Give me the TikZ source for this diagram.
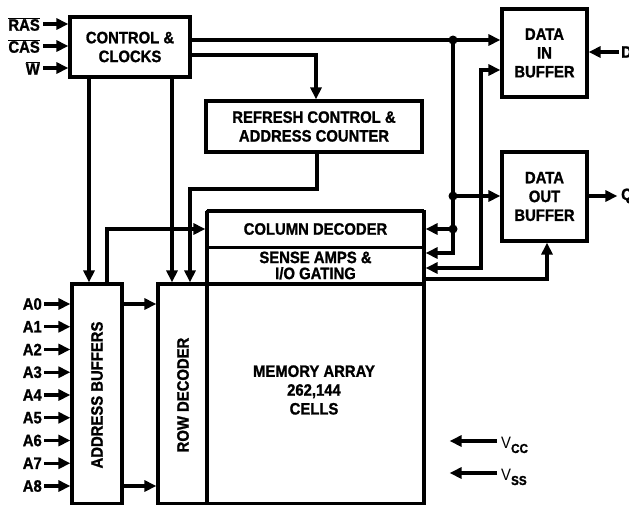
\documentclass[tikz,border=0pt]{standalone}
\usepackage{fontspec}
\setmainfont{Liberation Sans}[FakeStretch=0.9, BoldFeatures={FakeBold=1.2}]
\usetikzlibrary{arrows.meta}
\newcommand\lbl{\fontsize{16.5}{18.8}\selectfont\bfseries}
\newcommand\lbltight{\fontsize{16.5}{16}\selectfont\bfseries}
\begin{document}
\begin{tikzpicture}[x=1pt,y=-1pt,
  blk/.style={draw, line width=3.8pt, inner sep=0pt, outer sep=0pt, align=center, font=\lbl},
  inner/.style={draw, line width=3pt, inner sep=0pt, outer sep=0pt, align=center},
  txt/.style={inner sep=0pt, align=center, font=\lbl},
  wire/.style={line width=3.2pt},
  tip/.style={Triangle[length=12pt,width=11pt]},
  arr/.style={wire, -{Triangle[length=12pt,width=11pt]}, shorten >=1.6pt},
  arrboth/.style={wire, {Triangle[length=12pt,width=11pt]}-{Triangle[length=12pt,width=11pt]}, shorten >=1.6pt, shorten <=1.6pt},
  dot/.style={circle, fill, inner sep=0pt, minimum size=9pt}]
\useasboundingbox (0,0) rectangle (629,504);
% blocks
\node[blk, minimum width=120pt, minimum height=60pt] (ctrl) at (130,47) {CONTROL \&\\CLOCKS};
\node[blk, minimum width=216pt, minimum height=51pt] (refresh) at (314,126.5) {REFRESH CONTROL \&\\ADDRESS COUNTER};
\node[blk, minimum width=85pt, minimum height=88pt] (din) at (544.5,53) {DATA\\IN\\BUFFER};
\node[blk, minimum width=85pt, minimum height=89pt] (dout) at (544.5,196.5) {DATA\\OUT\\BUFFER};
\node[blk, minimum width=217pt, minimum height=220pt] (mem) at (315.5,394) {};
\node[txt] (memtxt) at (314,390) {MEMORY ARRAY\\262,144\\CELLS};
\node[inner, minimum width=217pt, minimum height=36pt, font=\lbl] (coldec) at (315.5,229) {COLUMN DECODER};
\node[inner, minimum width=217pt, minimum height=37pt, font=\lbltight] (sense) at (315.5,265.5) {SENSE AMPS \&\\I/O GATING};
\draw[line width=3.8pt] (coldec.north west) -- (sense.south west) (coldec.north east) -- (sense.south east)
  (coldec.north west) -- (coldec.north east) (sense.south west) -- (sense.south east);
\node[blk, minimum width=50pt, minimum height=220pt] (addr) at (97,394) {};
\node[txt, rotate=90] (addrtxt) at (97,395) {ADDRESS BUFFERS};
\node[blk, minimum width=49pt, minimum height=220pt] (row) at (182.5,394) {};
\node[txt, rotate=90] (rowtxt) at (183,395) {ROW DECODER};
% control inputs
\node[txt, anchor=east] (ras) at (40,24) {$\overline{\hbox{\lbl RAS}}$};
\node[txt, anchor=east] (cas) at (40,46) {$\overline{\hbox{\lbl CAS}}$};
\node[txt, anchor=east] (w) at (40,68) {$\overline{\hbox{\lbl W}}$};
\foreach \n in {ras,cas,w} \draw[arr] ([xshift=3pt]\n.east) -- (ctrl.west |- \n.east);
% junctions
\coordinate (j1) at (453,40);
\coordinate (j2) at (453,196);
\coordinate (j3) at (453,229);
\coordinate (j4) at (453,253);
\coordinate (k1) at (481,70);
\coordinate (k2) at (481,268);
\coordinate (r1) at (316,55);
\coordinate (r2) at (317,189);
\coordinate (r3) at (190,189);
\coordinate (c1) at (89,0);
\coordinate (c2) at (172,0);
\coordinate (a1) at (107,229);
\coordinate (s1) at (547,279);
% connectors
\draw[arr] (ctrl.east |- j1) -- (din.west |- j1);
\draw[arr] (ctrl.east |- r1) -- (r1) -- (refresh.north -| r1);
\draw[arr] (ctrl.south -| c1) -- (addr.north -| c1);
\draw[arr] (ctrl.south -| c2) -- (row.north -| c2);
\draw[arr] (refresh.south -| r2) -- (r2) -- (r3) -- (row.north -| r3);
\draw[arr] (addr.north -| a1) -- (a1) -- (coldec.west |- a1);
\draw[arr] (j1) -- (j4) -- (sense.east |- j4);
\draw[arr] (j2) -- (dout.west |- j2);
\draw[arr] (j3) -- (coldec.east |- j3);
\draw[arrboth] (din.west |- k1) -- (k1) -- (k2) -- (sense.east |- k2);
\draw[arr] (sense.east |- s1) -- (s1) -- (dout.south -| s1);
\node[dot] (d1) at (j1) {};
\node[dot] (d2) at (j2) {};
\node[dot] (d3) at (j3) {};
% data pins
\node[txt, anchor=west] (dpin) at (621,52) {D};
\node[txt, anchor=west] (qpin) at (621,196) {Q};
\draw[arr] ([xshift=-2pt]dpin.west) -- (din.east |- dpin.west);
\draw[arr] (dout.east |- qpin.west) -- ([xshift=-2pt]qpin.west);
% address inputs
\foreach \k in {0,...,8} {
  \node[txt, anchor=east] (A\k) at (42,{304+22.75*\k}) {A\k};
  \draw[arr] ([xshift=2pt]A\k.east) -- (addr.west |- A\k.east);
}
\draw[arr] (addr.east |- A0.east) -- (row.west |- A0.east);
\draw[arr] (addr.east |- A8.east) -- (row.west |- A8.east);
% supplies
\node[inner sep=0pt, anchor=base west, font=\fontsize{16.5}{18}\selectfont] (vcc) at (501,448) {V\raisebox{-5pt}{\bfseries\fontsize{13}{14}\selectfont CC}};
\node[inner sep=0pt, anchor=base west, font=\fontsize{16.5}{18}\selectfont] (vss) at (501,480) {V\raisebox{-5pt}{\bfseries\fontsize{13}{14}\selectfont SS}};
\coordinate (vcca) at (448,441);
\coordinate (vssa) at (448,473);
\draw[arr] ([xshift=-4pt]vcc.west |- vcca) -- (vcca);
\draw[arr] ([xshift=-4pt]vss.west |- vssa) -- (vssa);
\end{tikzpicture}
\end{document}
